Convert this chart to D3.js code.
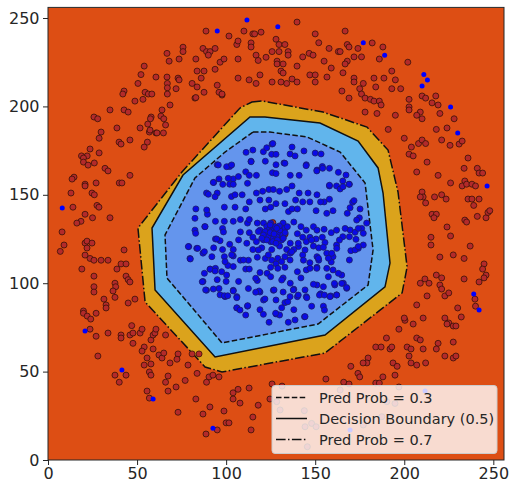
<!DOCTYPE html>
<html>

<head>
    <meta charset="utf-8">
    <title>Decision boundary</title>
    <style>
        body {
            margin: 0;
            background: #fff;
        }

        figure {
            margin: 0;
        }

        svg {
            font-family: 'DejaVu Sans', sans-serif;
        }

        g.tick text {
            font-family: 'DejaVu Sans', sans-serif;
            font-size: 16px;
            fill: #262626;
        }

        g.tick line {
            stroke: #262626;
        }
    </style>
</head>

<body>
    <figure></figure>

    <script src="https://d3js.org/d3.v7.min.js"></script>

    <script>

        ////////////////////////////////////
        ///////////// Data /////////////////
        ////////////////////////////////////

        const tickValues = [0, 50, 100, 150, 200, 250]

        // contour polygons (data units)
        const level03 = [[115.1, 185.5], [124.6, 185.5], [145.4, 182.7], [164, 174.2], [178, 156.7], [182.5, 118.8],
        [179.7, 99], [151.6, 76.9], [97.7, 66.2], [66.8, 102.9], [65.7, 127.3], [82.5, 159.5], [99.4, 174.2]]

        const level05 = [[113.4, 194], [121.8, 194], [152.7, 190.6], [174.1, 180.4], [185.3, 165.2], [188.1, 151],
        [192, 111.4], [189.2, 97.9], [155.5, 70.7], [93.8, 58.3], [60.1, 96.2], [58.4, 131.2], [75.8, 161.2]]

        const level07 = [[114.5, 202.5], [120.2, 203.1], [154.4, 196.8], [179.1, 188.3], [190.9, 175.3], [196.5, 151.6],
        [201.6, 109.2], [198.8, 94.5], [155.5, 60.5], [97.7, 49.8], [88.2, 52.6], [54.5, 89.4], [50.5, 131.2],
        [75.2, 162.9], [107.8, 199.1]]

        // outer ring (class 0)
        const redPoints = [
            [66.8, 230], [68, 225.6], [54, 222.8], [52.2, 218], [60.6, 216.6], [66.8, 216.6], [67, 213], [67, 210.5], [50.5, 213],
            [42.7, 208.7], [42, 207], [54.5, 208], [56.3, 207], [58.3, 207], [67, 207], [48.8, 203], [53.3, 204], [68.5, 200.8],
            [34.8, 198], [42.7, 198], [45, 196.8], [64, 198], [25.8, 194], [27.9, 193], [57.9, 194], [57.5, 193], [63.4, 194.5],
            [65, 193], [38.7, 187.8], [51.7, 187.8], [56, 190], [66, 189.5], [29.8, 185.5], [56.9, 185.5], [60.6, 185], [64.8, 185],
            [28.7, 182], [46, 181], [39.9, 179.8], [41, 178.7], [55.8, 179.8], [54, 177], [23.6, 175.9], [28.7, 173.7], [18.8, 172],
            [22, 172], [19.9, 170.8], [82.5, 204.7], [97.7, 206.4], [57.3, 186.6], [61.2, 185],
            [73.6, 226.8], [83, 226.8], [75.8, 233.5], [75.8, 231], [88.7, 242.6], [101.6, 239.8], [110, 242.6], [115, 241],
            [116, 241], [119.6, 242], [106, 235], [106.7, 237], [114, 235.9], [114, 233.6], [87, 232.8], [89, 231], [91, 231],
            [93.8, 232.8], [90, 229], [96.6, 225], [98.8, 226.8], [106.7, 226.8], [116.8, 229], [118, 226], [122.4, 227.8],
            [128, 238], [129.7, 235], [133, 235], [125.8, 231], [129.7, 231], [134.8, 231], [134.8, 229], [128.6, 225.6],
            [128.6, 224], [132, 224], [139.8, 247.7], [150, 241], [152, 236], [157.8, 232.8], [163, 231], [146.6, 230],
            [148.8, 229], [143, 228], [155, 225.6], [159, 221.7], [139.8, 222.8], [130.8, 220], [132, 218.9], [137, 215.5],
            [139.8, 213.8], [147, 217.8], [150, 217.8], [156.6, 216.6], [150, 213.8], [134, 213], [130.8, 213.8], [125.8, 213.8],
            [119, 217.8], [116.8, 213], [112.9, 215], [106.7, 216], [93.8, 221], [83.7, 220], [87.6, 220], [86, 216], [73, 216],
            [73.6, 215], [80.9, 213], [83.7, 211], [71.9, 210], [87.6, 208], [83, 205], [95, 212], [96, 208], [97.7, 207],
            [166.8, 242.6], [182, 235.9], [188, 233.6], [168, 235], [169, 233.6], [174, 232.8], [164, 231], [171.8, 228], [176, 228],
            [186, 226.8], [168, 225.6], [166.8, 224], [202, 225], [165.6, 219], [193, 220], [171.8, 216], [171.8, 213.8], [183, 216],
            [188.6, 216], [195, 215], [177, 213], [184, 211], [193, 210], [198, 210], [165, 208.7], [175, 210], [176, 207],
            [178, 204.7], [169, 204.7], [181, 204], [183, 203], [186, 203], [187, 200.8], [210, 205.9], [212, 204.7], [217.7, 205.9],
            [202.7, 204], [215.6, 202], [219, 200.8], [202.7, 199.7], [202.7, 198], [209, 196.8], [207, 195], [210, 193], [220, 196],
            [228, 193], [178, 196.8], [184.7, 196], [195, 195], [191, 187], [200, 182], [218, 187], [224, 187.8], [221, 181],
            [208, 179], [210, 181], [212, 179], [204, 177], [225.7, 178], [230.8, 178.7], [232.5, 180.4], [202.7, 173], [205, 172],
            [235.8, 170.8],
            [19.9, 168.5], [22.5, 166.8], [26, 168], [32, 165], [33.7, 163.5], [46, 161], [14.6, 160], [13.5, 158.9], [27, 156.7],
            [40, 156.7], [41.5, 156.7], [20.8, 156], [20.8, 155], [12.9, 151], [24.7, 151], [26, 150], [27.5, 144], [28.6, 143],
            [14, 143], [20.8, 139], [25, 137], [34.8, 137], [18.5, 135], [16.2, 134], [7.9, 129], [9, 121.6], [6.9, 118],
            [20.8, 122.7], [21.9, 123.8], [24.7, 122.7], [21.9, 119.9], [42.7, 118.8], [20.8, 115.9], [23.6, 114], [25.8, 113],
            [29.8, 113], [33.7, 113], [41, 110.9], [43.8, 110.9], [38.7, 108], [19, 108], [25.8, 104], [43.8, 104], [45, 102],
            [46, 100.7], [37.6, 100], [38, 98], [36.5, 95.6], [25.8, 98], [25.8, 95], [37.6, 92], [31.4, 91], [32.6, 87.7],
            [32.6, 86], [45, 88.8], [48.8, 91], [19.9, 84.3], [19.9, 83], [22, 81.4], [27, 83], [24, 79.7],
            [47, 76], [78.6, 53.7],
            [23.6, 74], [27, 70], [33.7, 71.8], [41, 70.7], [41, 69], [46, 70.7], [47.7, 71.8], [51.7, 71.8], [52.8, 74], [47.7, 66],
            [28, 58.8], [54, 63.9], [52.8, 61.6], [55.6, 57.7], [54, 53.7], [57.8, 54.3], [59, 62.8], [57.8, 67.9], [59, 70.7],
            [60, 71.8], [60.6, 74], [66, 70.7], [62.3, 59.4], [64, 57.7], [65, 60.5], [56.9, 49.8], [57.8, 48], [37.6, 48],
            [43.8, 48], [40, 44], [55.6, 39], [56.9, 35], [67.4, 47.5], [66, 44], [67.4, 39],
            [73, 60], [72.4, 57], [80.9, 60], [84.8, 60], [77, 45], [83.7, 49], [89, 44], [90.4, 47], [92.6, 48], [96, 47],
            [71.9, 41.3], [83, 34.5], [73, 27], [87, 26], [90.9, 30], [98.8, 27.7], [103.9, 38], [103.9, 34.5], [106.7, 40],
            [107.8, 32.2], [112.9, 40.7], [118, 31], [115, 24.3], [100, 21], [101.6, 21], [88.7, 14.7], [95, 17], [114, 17],
            [124.6, 34.5], [125.8, 43], [131.4, 41.8], [156, 45.8], [68.5, 54.9],
            [128.4, 33], [130.3, 28.3], [144.3, 18.8], [148, 20.7], [150.5, 18.8], [145.6, 7.5], [143.9, 27.9], [164, 39.6],
            [190.2, 33], [194.8, 32], [177, 19.8], [187.4, 24.5],
            [197, 74], [190, 69], [184, 63.9], [187, 63.9], [192, 62.8], [193, 63.9], [201.6, 63.9], [203.8, 62.8], [207, 69],
            [209, 67.9], [210.6, 62.8], [202.7, 58.8], [203.8, 54.9], [207, 53.7], [212, 54.9], [193.7, 54.9], [196, 53],
            [179.7, 57.7], [179, 54.9], [176.9, 54.9], [170, 53], [174, 49], [175, 47], [188, 47], [194.8, 48], [184, 43.5],
            [186, 43.5], [166, 44], [169, 43], [197, 41.3], [219, 66], [218, 62.8], [222.8, 58.8], [227.5, 66.7], [227.5, 57.7],
            [229, 58.8], [225, 77.5], [227.5, 75.8], [229, 75.8], [224, 76.9], [205, 76.9], [200.4, 79],
            [207, 162.9], [212.8, 168.5], [219, 161], [226, 156.7], [233.6, 165], [241, 165], [242, 162.3], [244, 162.3],
            [234, 157.8], [232.5, 155], [235, 156], [238, 156], [240, 155], [210, 151.6], [210.6, 148.8], [209, 148.8],
            [212, 145.4], [217, 148.8], [221, 150], [223.5, 147.6], [235.8, 147.6], [238, 147.6], [242, 147.6], [239, 144],
            [215.6, 139], [218, 139], [216.7, 137], [234, 135.7], [235, 134.6], [241, 137.8], [245.9, 137], [247, 140], [248, 141],
            [224, 131.8], [215, 126], [226, 126.7], [215, 121.6], [237, 121], [220, 114.8], [227.5, 116], [233.6, 114],
            [244.8, 110.9], [244, 108], [245.9, 104.6], [244.8, 103], [218, 104.6], [221, 103], [233.6, 102.4], [242, 100.7],
            [211.6, 102.4], [213.9, 100], [209, 100], [220, 99], [221, 96.7], [212.8, 92.8], [222.8, 92.8], [225, 94.5],
            [239.7, 91], [240, 87], [207, 87.7], [230, 86], [232, 80.9], [222.8, 80.3], [210.6, 80.3], [200, 80.3],
            [126.2, 134.3], [133.1, 127.8]
        ]

        // central cluster (class 1)
        const bluePoints = [
            [95, 167], [102, 166], [114, 169], [122, 169], [128, 167], [132.5, 168], [145, 167], [154, 166], [151, 164], [158, 155],
            [111, 163], [113, 161], [117, 161], [126, 162.5], [128, 162], [136, 161], [141, 161], [96, 159], [104, 159], [102, 156],
            [93, 157], [112, 156.5], [117, 151], [120.5, 152], [124, 153], [126.5, 153], [130, 152], [134, 153], [137, 155],
            [141, 151], [146, 151], [151, 150], [158, 147.5], [155, 146], [153, 146], [162, 155], [89, 151], [95, 151], [103, 149],
            [105, 150], [109, 150], [113, 146], [119, 147], [124, 147], [128, 145], [133, 145], [139, 147], [143, 146], [147, 146],
            [99, 143], [105, 143], [111, 142], [122, 142], [125, 143], [135, 140.5], [137, 142], [140, 142], [150.5, 141],
            [156.5, 139.5], [160, 141], [83, 142], [89.5, 139], [94, 135], [99, 135], [104, 135], [108, 136], [112, 134], [113, 136],
            [117.5, 134], [121, 134], [125, 134], [132, 134], [138, 134.6], [142, 132], [145, 130], [149, 132], [151, 130],
            [155, 130.5], [159, 128.6], [162, 130], [82.5, 130], [88, 132], [98, 131], [98.5, 129], [108, 129], [113, 128.6],
            [115, 126], [119, 130], [123, 130], [140, 128], [143, 126], [147, 126], [150.5, 125], [154, 126], [155.5, 123],
            [94, 125], [96.6, 124], [102, 122], [107, 124.5], [111.6, 122.6], [117, 123.5], [121, 124.5], [125, 123.5], [128, 125],
            [132, 126], [136, 122.6], [140.6, 120.7], [145, 123.5], [149, 121], [152, 120], [154.6, 120.3], [162, 121.6],
            [79, 120.7], [83.5, 119.7], [87, 117], [93, 120], [98, 119], [104, 119], [115, 119], [120, 120], [125.6, 119],
            [130, 121], [134, 119], [138, 119], [143, 116], [151, 115], [156.5, 117], [160, 115], [79.7, 114], [92, 115], [99, 115],
            [104, 115.4], [108, 113], [112.5, 113], [117.5, 114.7], [122, 114], [125.6, 113], [128, 111], [133, 115], [136, 117],
            [143.4, 113], [147, 111.6], [152, 113], [159, 112], [91, 108], [94, 108.4], [101, 110], [104, 109.4], [111, 108],
            [113, 108], [119, 106], [123, 105.6], [125, 109], [129, 108.4], [133, 109], [140, 106.5], [145, 107.5], [151, 109],
            [156.5, 108.4], [160, 107.5], [87, 101], [95, 102], [100, 101], [107, 101], [117.5, 101.5], [125, 103.7], [132, 103],
            [136, 100], [142, 103], [151, 99], [154.6, 98], [161, 99], [89, 96], [96, 97], [99.4, 92.4], [104, 96], [106, 92.4],
            [112.5, 97], [119, 95], [126.5, 96], [132, 95], [138, 96.6], [140, 92.4], [145, 92.4], [153, 94], [158.7, 92.8],
            [162, 93.4], [96.6, 93.4], [121, 90.5], [128, 90.5], [133, 89], [148, 87], [154.6, 87], [106, 86], [112, 87], [119, 85],
            [128, 82.6], [130, 82], [138, 85], [144, 81],
            [122.8, 132], [124.3, 130.5], [125.6, 129.7], [126.9, 131.1], [128, 129.2], [129.3, 127.9], [130.3, 130.1],
            [131.8, 127.3], [125.6, 127.3], [123.7, 126.3], [126.5, 125.4], [128.4, 126.3], [121.9, 129.2], [124.7, 128.6],
            [127.5, 132], [129.9, 132.4], [131.2, 124.5], [126.2, 123.5], [122.8, 124.5], [133.1, 131.1], [120.9, 127.3],
            [128.8, 124.5], [126.9, 127.9], [128.4, 131.1], [133.1, 128.6], [120, 125.4], [124.7, 133], [132.1, 125.4],
            [118.1, 129.2], [134.4, 132], [128, 122.6],
            [111.2, 174], [115, 175.3], [120.9, 174.4], [122.8, 176.6], [125.6, 172.9], [95.6, 166.9], [100.3, 165.9],
            [103.1, 166.9], [114, 168.7], [92.8, 157], [98.1, 155.9], [104, 155.9], [101.2, 159.3], [106.9, 160.3], [90, 150.3],
            [93.8, 148.9], [82.5, 136.7], [89.1, 141.4], [82.9, 128.2], [88.2, 132], [94.7, 125],
            [125.8, 178.7], [137, 177], [143.7, 174.8], [150, 173.6], [153.3, 173.1], [135.9, 173.1], [138.7, 172],
            [126.2, 179], [128, 172.9], [133, 167.8], [144.9, 166.5], [150.9, 163.5], [154.2, 165], [158, 165], [163, 162.7],
            [167.3, 161.2], [165.5, 157.8], [169.2, 155.9], [158, 155.4], [164, 153.3], [171, 145.8], [175.2, 142], [169.6, 142.7],
            [174.8, 137], [178.9, 134], [176.1, 131], [169.6, 130.1], [165.5, 126.3], [169.2, 126.3], [163.6, 124.4],
            [172.4, 128.8], [169, 156], [165.6, 154.6], [171.8, 146.7], [168, 139.5], [173.3, 135.7], [166.8, 131], [174.2, 131],
            [177, 128.2], [172.9, 124.8], [177, 121.6], [174.2, 119.7], [170, 118.4], [169.2, 113.1], [164.9, 104.6],
            [165.8, 100], [167.7, 97.1],
            [78.8, 120.7], [84, 119.7], [79.9, 113.7], [87.8, 117.8], [91, 107.9], [87.8, 105.6], [93.8, 106.9], [86.6, 100.8],
            [88.5, 96.2], [92.8, 96.7], [99, 92.9], [100.9, 92.9], [104, 95.6], [106, 91.8], [106, 86.1], [107.8, 84.8], [111, 82],
            [112.1, 87.3], [118.5, 95.6], [116.6, 94.9], [121.8, 91.1], [120.9, 82.4], [124.1, 77.9], [127.8, 83], [134.9, 77.9],
            [138.7, 79.2], [144.3, 81.1], [131.2, 86.1], [134.6, 89.5], [135.9, 92.4], [137.7, 96.2], [140.5, 93.3], [145.3, 91.8],
            [144.3, 96.2], [152.4, 93.3], [155.2, 93.3], [155.2, 84.8], [149, 99.4], [158.3, 92.4], [162.1, 93.3], [164.9, 99.9],
            [167.7, 97.5], [160.8, 99.9], [157.4, 103.7], [163, 105.6], [150.9, 108.4], [147.1, 108.4], [157.4, 114.1],
            [159.3, 116.9], [172.4, 118.8], [174.2, 120.7], [162.1, 119.7], [148, 124.4], [144.3, 118.8], [151.8, 114.1],
            [140.5, 122.6], [136.8, 117.8], [135.9, 113.1], [123.7, 116], [129, 114.1], [131.2, 112.2], [118.1, 118.8],
            [109.7, 113.1], [103.1, 116], [99.4, 112.2], [116.6, 102.8], [131.2, 101.8], [126.9, 96.2], [97.5, 106.5],
            [100.3, 104.6]
        ]

        // class 1 points that fall in the outer ring
        const outerBluePoints = [[95, 242.6], [111.7, 248.9], [129, 245], [177, 236], [189, 229], [211, 218], [213, 215],
        [210, 211.5], [226, 199.7], [230, 185], [8, 142.5], [246.5, 155], [239, 93.9], [242, 84.8], [20.8, 73], [41.5, 50.9],
        [59, 34.5], [92.6, 18], [211.7, 39], [169.6, 17]]

        const legendLabels = ['Pred Prob = 0.3', 'Decision Boundary (0.5)', 'Pred Prob = 0.7']

        ////////////////////////////////////
        ///////////// SVG Setup ////////////
        ////////////////////////////////////

        const svgWidth = 509
        const svgHeight = 485

        const plot = { left: 48, right: 504, top: 7.4, bottom: 460 }

        const svg = d3.select('figure')
            .append('svg')
            .attr('width', svgWidth)
            .attr('height', svgHeight)

        ////////////////////////////////////
        /////////////// Scales /////////////
        ////////////////////////////////////

        const xScale = d3.scaleLinear()
            .domain([0, 256])
            .range([plot.left, plot.right])

        const yScale = d3.scaleLinear()
            .domain([0, 256])
            .range([plot.bottom, plot.top])

        const polygon = d3.line()
            .x(d => xScale(d[0]))
            .y(d => yScale(d[1]))
            .curve(d3.curveLinearClosed)

        ////////////////////////////////////
        /////////////// Draw items /////////
        ////////////////////////////////////

        svg.append('clipPath').attr('id', 'plotclip')
            .append('rect')
            .attr('x', plot.left).attr('y', plot.top)
            .attr('width', plot.right - plot.left).attr('height', plot.bottom - plot.top)

        const area = svg.append('g').attr('clip-path', 'url(#plotclip)')

        // filled bands
        area.append('rect')
            .attr('x', plot.left).attr('y', plot.top)
            .attr('width', plot.right - plot.left).attr('height', plot.bottom - plot.top)
            .style('fill', '#dd4e14')

        area.append('path').attr('d', polygon(level07)).style('fill', '#dba31c')
        area.append('path').attr('d', polygon(level05)).style('fill', '#61b5ec')
        area.append('path').attr('d', polygon(level03)).style('fill', '#6495ed')

        // contour lines
        const lineStyles = [
            { data: level03, dash: '5.5,2.4' },
            { data: level05, dash: null },
            { data: level07, dash: '9.6,2.4,1.5,2.4' }
        ]

        lineStyles.forEach(function (s) {
            area.append('path')
                .attr('d', polygon(s.data))
                .style('fill', 'none')
                .style('stroke', '#111')
                .style('stroke-width', 1.5)
                .style('stroke-dasharray', s.dash)
        })

        // points
        area.selectAll('circle.red')
            .data(redPoints)
            .enter()
            .append('circle')
            .attr('class', 'red')
            .attr('cx', d => xScale(d[0]))
            .attr('cy', d => yScale(d[1]))
            .attr('r', 3)
            .style('fill', '#b32a2a')
            .style('stroke', '#3a1208')
            .style('stroke-width', 0.8)

        area.selectAll('circle.blue')
            .data(bluePoints)
            .enter()
            .append('circle')
            .attr('class', 'blue')
            .attr('cx', d => xScale(d[0]))
            .attr('cy', d => yScale(d[1]))
            .attr('r', 3)
            .style('fill', '#0a0ae6')
            .style('stroke', '#1c1c6a')
            .style('stroke-width', 0.8)

        area.selectAll('circle.outer')
            .data(outerBluePoints)
            .enter()
            .append('circle')
            .attr('class', 'outer')
            .attr('cx', d => xScale(d[0]))
            .attr('cy', d => yScale(d[1]))
            .attr('r', 2.5)
            .style('fill', '#0000ff')

        ////////////////////////////////////
        /////////////// Axes ///////////////
        ////////////////////////////////////

        const xAxis = svg.append('g')
            .attr('transform', 'translate(0,' + plot.bottom + ')')
            .call(d3.axisBottom(xScale).tickValues(tickValues).tickSize(5).tickPadding(3))
        xAxis.select('.domain').remove()

        const yAxis = svg.append('g')
            .attr('transform', 'translate(' + plot.left + ',0)')
            .call(d3.axisLeft(yScale).tickValues(tickValues).tickSize(5).tickPadding(3.5))
        yAxis.select('.domain').remove()

        svg.append('rect')
            .attr('x', plot.left).attr('y', plot.top)
            .attr('width', plot.right - plot.left).attr('height', plot.bottom - plot.top)
            .style('fill', 'none')
            .style('stroke', '#262626')
            .style('stroke-width', 1)

        ////////////////////////////////////
        /////////////// Legend /////////////
        ////////////////////////////////////

        const legend = svg.append('g').attr('transform', 'translate(272,385.5)')

        legend.append('rect')
            .attr('width', 225).attr('height', 68).attr('rx', 3)
            .style('fill', '#fff').style('fill-opacity', 0.8)
            .style('stroke', '#cccccc').style('stroke-width', 1)

        legendLabels.forEach(function (label, i) {
            const row = legend.append('g').attr('transform', 'translate(0,' + (12 + i * 21) + ')')
            row.append('line')
                .attr('x1', 4).attr('x2', 35)
                .style('stroke', '#111')
                .style('stroke-width', 1.5)
                .style('stroke-dasharray', lineStyles[i].dash)
            row.append('text')
                .attr('x', 47).attr('y', 5)
                .style('font-size', '14.5px')
                .style('fill', '#262626')
                .text(label)
        })

    </script>
</body>

</html>
